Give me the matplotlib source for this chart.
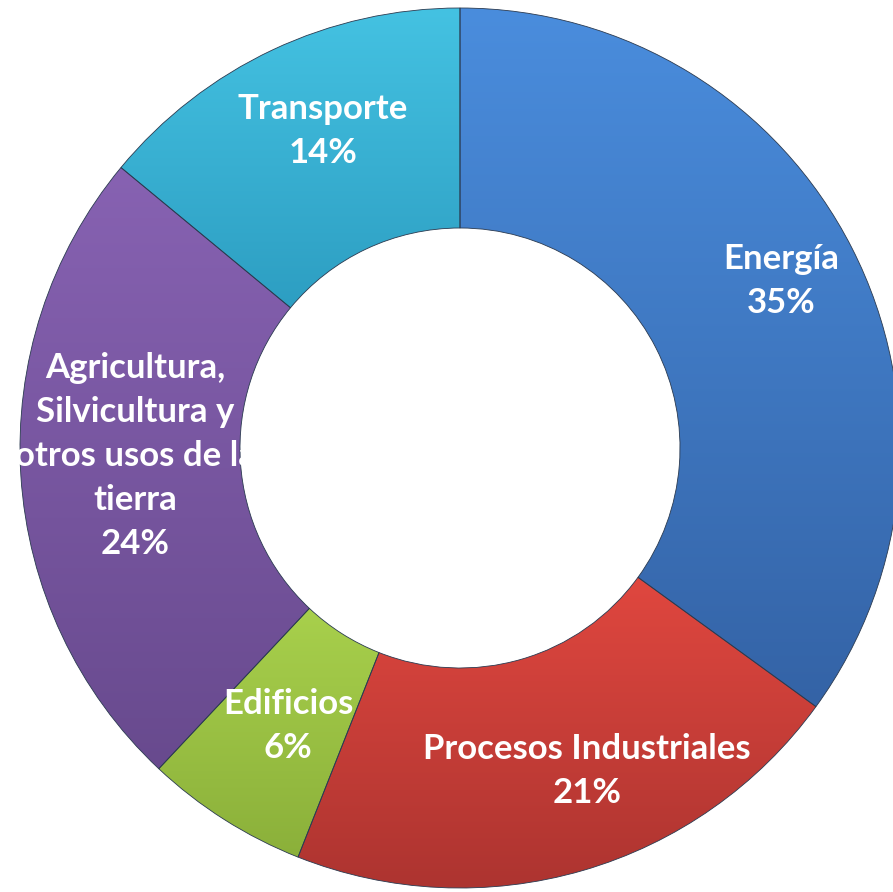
import numpy as np
import matplotlib
matplotlib.use("Agg")
import matplotlib.pyplot as plt
from matplotlib.colors import LinearSegmentedColormap

# ============================================
# Data
# ============================================
sectors = ["Energía", "Procesos Industriales", "Edificios",
           "Agricultura,\nSilvicultura y\notros usos de la\ntierra", "Transporte"]
shares = [35, 21, 6, 24, 14]

# light (top) / dark (bottom) colour of each slice
top_colors = ["#4a8ddd", "#e0473f", "#a8d04c", "#8762b2", "#44c2e2"]
bottom_colors = ["#3463a6", "#ad3430", "#8bb03a", "#684a8e", "#2d9ec2"]

# label centres in pixel coords (x, y from top)
label_pos = [(781, 281), (587, 771), (288, 726), (135, 456), (323, 131)]

# ============================================
# Figure
# ============================================
W, H = 893, 892
fig = plt.figure(figsize=(W / 100, H / 100), dpi=100)
ax = fig.add_axes([0, 0, 1, 1])

cx, cy = 460, H - 448
R = 440
ring = 0.5

wedges, _ = ax.pie(shares, radius=R, center=(cx, cy), startangle=90,
                   counterclock=False, frame=True,
                   wedgeprops=dict(width=R * ring, edgecolor="#2a3a50",
                                   linewidth=0.6))

# vertical gradient inside every slice
for w, c1, c2 in zip(wedges, top_colors, bottom_colors):
    bb = w.get_path().get_extents()
    grad = np.linspace(0, 1, 256).reshape(-1, 1)
    cmap = LinearSegmentedColormap.from_list("g", [c1, c2])
    im = ax.imshow(grad, cmap=cmap, aspect="auto", origin="upper",
                   extent=[bb.x0, bb.x1, bb.y0, bb.y1], zorder=w.get_zorder() + 0.1)
    im.set_clip_path(w)
    w.set_zorder(w.get_zorder() + 0.2)
    w.set_facecolor("none")

ax.set_xlim(0, W)
ax.set_ylim(0, H)
ax.set_aspect("equal")
ax.axis("off")

# ============================================
# Labels
# ============================================
for name, val, (lx, ly) in zip(sectors, shares, label_pos):
    ax.text(lx, H - ly, f"{name}\n{val}%", ha="center", va="center",
            color="white", fontsize=25, fontweight="bold", family="Lato",
            linespacing=1.47, zorder=10)

fig.savefig("out.png", dpi=100)
